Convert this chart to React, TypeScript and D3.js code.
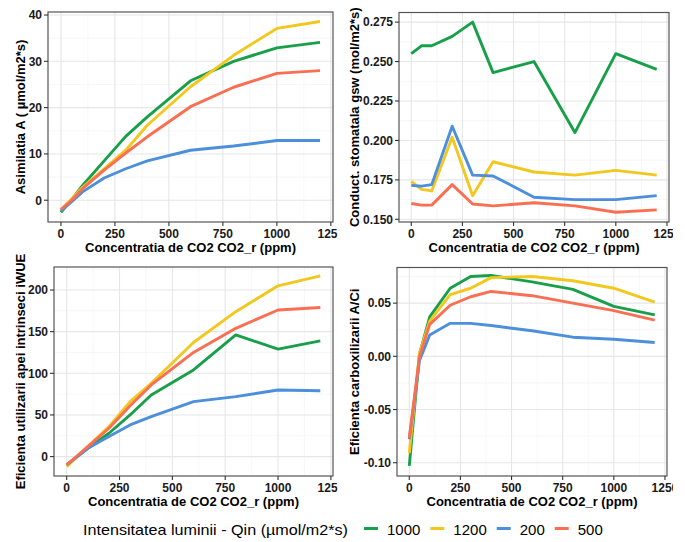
import React from "react";
import * as d3 from "d3";

// CO2 set points of the A–Ci response curves (ppm)
const co2 = [0, 50, 100, 200, 300, 400, 600, 800, 1000, 1200];

// Light intensity levels (legend order) and their colours
const lightLevels = ["1000", "1200", "200", "500"];
const levelColors = ["#17A049", "#F2C71E", "#4C8FDA", "#FA6E52"];

// Net assimilation A (µmol/m2*s)
const assim1000 = [-2.6, 0.2, 3.2, 8.5, 13.8, 18.0, 25.8, 30.0, 32.9, 34.1];
const assim1200 = [-2.0, 0.3, 2.8, 6.8, 10.8, 16.2, 24.5, 31.3, 37.1, 38.6];
const assim200 = [-2.3, -0.3, 1.8, 4.8, 6.8, 8.5, 10.8, 11.7, 12.9, 12.9];
const assim500 = [-2.0, 0.0, 2.5, 6.5, 10.2, 13.7, 20.2, 24.4, 27.4, 28.0];

// Stomatal conductance gsw (mol/m2*s)
const gsw1000 = [0.255, 0.26, 0.26, 0.266, 0.275, 0.243, 0.25, 0.205, 0.255, 0.245];
const gsw1200 = [0.174, 0.169, 0.168, 0.202, 0.165, 0.1865, 0.18, 0.178, 0.181, 0.178];
const gsw200 = [0.1715, 0.171, 0.172, 0.209, 0.178, 0.1775, 0.164, 0.1625, 0.1625, 0.165];
const gsw500 = [0.16, 0.159, 0.159, 0.172, 0.1597, 0.1585, 0.1605, 0.1585, 0.1545, 0.156];

// Intrinsic water use efficiency iWUE
const iwue1000 = [-10, 0, 10, 28, 50, 74, 104, 146, 129, 139];
const iwue1200 = [-12, 0, 12, 36, 66, 88, 137, 174, 205, 217];
const iwue200 = [-10, 0, 10, 24, 38, 48, 66, 72, 80, 79];
const iwue500 = [-10, 1, 12, 34, 61, 86, 125, 154, 176, 179];

// Carboxylation efficiency A/Ci
const ace1000 = [-0.103, 0.002, 0.037, 0.064, 0.075, 0.076, 0.07, 0.063, 0.047, 0.039];
const ace1200 = [-0.091, 0.003, 0.033, 0.058, 0.064, 0.074, 0.075, 0.071, 0.064, 0.051];
const ace200 = [-0.078, -0.004, 0.02, 0.031, 0.031, 0.029, 0.024, 0.018, 0.016, 0.013];
const ace500 = [-0.077, 0.0, 0.03, 0.048, 0.056, 0.061, 0.057, 0.05, 0.043, 0.034];

const xTicks = [0, 250, 500, 750, 1000, 1250];
const xMinor = [125, 375, 625, 875, 1125];
const xTitle = "Concentratia de CO2 CO2_r (ppm)";
const legendTitle = "Intensitatea luminii - Qin (µmol/m2*s)";

const FONT = "'Liberation Sans', Arial, Helvetica, sans-serif";

type PanelSpec = {
  id: string;
  x0: number;
  x1: number;
  y0: number;
  y1: number;
  yDomain: [number, number];
  yTicks: number[];
  yMinor: number[];
  fmt: (v: number) => string;
  yTitle: string;
  yTitleX: number;
  clipX0: number;
  clipX1: number;
  series: number[][];
};

const panels: PanelSpec[] = [
  {
    id: "a",
    x0: 48, x1: 333, y0: 12, y1: 222,
    yDomain: [-4.7, 40.65],
    yTicks: [0, 10, 20, 30, 40],
    yMinor: [5, 15, 25, 35],
    fmt: (v) => String(v),
    yTitle: "Asimilatia A ( µmol/m2*s)",
    yTitleX: 25,
    clipX0: 0, clipX1: 337.5,
    series: [assim1000, assim1200, assim200, assim500],
  },
  {
    id: "g",
    x0: 399, x1: 669, y0: 12.5, y1: 222,
    yDomain: [0.1483, 0.2811],
    yTicks: [0.15, 0.175, 0.2, 0.225, 0.25, 0.275],
    yMinor: [0.1625, 0.1875, 0.2125, 0.2375, 0.2625],
    fmt: (v) => v.toFixed(3),
    yTitle: "Conduct. stomatala gsw (mol/m2*s)",
    yTitleX: 359,
    clipX0: 340, clipX1: 673,
    series: [gsw1000, gsw1200, gsw200, gsw500],
  },
  {
    id: "w",
    x0: 54, x1: 333, y0: 267, y1: 476,
    yDomain: [-23.3, 227.6],
    yTicks: [0, 50, 100, 150, 200],
    yMinor: [25, 75, 125, 175, 225],
    fmt: (v) => String(v),
    yTitle: "Eficienta utilizarii apei intrinseci iWUE",
    yTitleX: 25,
    clipX0: 0, clipX1: 337.5,
    series: [iwue1000, iwue1200, iwue200, iwue500],
  },
  {
    id: "c",
    x0: 397, x1: 667, y0: 267.5, y1: 476,
    yDomain: [-0.1125, 0.0835],
    yTicks: [-0.1, -0.05, 0, 0.05],
    yMinor: [-0.075, -0.025, 0.025, 0.075],
    fmt: (v) => v.toFixed(2),
    yTitle: "Eficienta carboxilizarii A/Ci",
    yTitleX: 359,
    clipX0: 340, clipX1: 673,
    series: [ace1000, ace1200, ace200, ace500],
  },
];

function Panel({ p }: { p: PanelSpec }) {
  const x = d3.scaleLinear().domain([-60, 1260]).range([p.x0, p.x1]);
  const y = d3.scaleLinear().domain(p.yDomain).range([p.y1, p.y0]);
  const line = d3
    .line<number>()
    .x((_, i) => x(co2[i]))
    .y((d) => y(d));
  const cx = (p.x0 + p.x1) / 2;
  const cy = (p.y0 + p.y1) / 2;
  const clipId = `clip-${p.id}`;
  const plotClip = `plot-${p.id}`;
  return (
    <g>
      <defs>
        <clipPath id={clipId}>
          <rect x={p.clipX0} y={p.y0 - 20} width={p.clipX1 - p.clipX0} height={p.y1 - p.y0 + 60} />
        </clipPath>
        <clipPath id={plotClip}>
          <rect x={p.x0} y={p.y0} width={p.x1 - p.x0} height={p.y1 - p.y0} />
        </clipPath>
      </defs>
      <rect x={p.x0} y={p.y0} width={p.x1 - p.x0} height={p.y1 - p.y0} fill="#ffffff" />
      <g clipPath={`url(#${plotClip})`}>
        {xMinor.map((t) => (
          <line key={`xm${t}`} x1={x(t)} x2={x(t)} y1={p.y0} y2={p.y1} stroke="#F3F3F3" strokeWidth={0.7} />
        ))}
        {p.yMinor.map((t) => (
          <line key={`ym${t}`} x1={p.x0} x2={p.x1} y1={y(t)} y2={y(t)} stroke="#F3F3F3" strokeWidth={0.7} />
        ))}
        {xTicks.map((t) => (
          <line key={`xg${t}`} x1={x(t)} x2={x(t)} y1={p.y0} y2={p.y1} stroke="#E6E6E6" strokeWidth={1.1} />
        ))}
        {p.yTicks.map((t) => (
          <line key={`yg${t}`} x1={p.x0} x2={p.x1} y1={y(t)} y2={y(t)} stroke="#E6E6E6" strokeWidth={1.1} />
        ))}
        {p.series.map((s, i) => (
          <path
            key={lightLevels[i]}
            d={line(s) || ""}
            fill="none"
            stroke={levelColors[i]}
            strokeWidth={2.9}
            strokeLinejoin="round"
          />
        ))}
      </g>
      <rect
        x={p.x0}
        y={p.y0}
        width={p.x1 - p.x0}
        height={p.y1 - p.y0}
        fill="none"
        stroke="#555555"
        strokeWidth={1.2}
      />
      {xTicks.map((t) => (
        <line key={`xt${t}`} x1={x(t)} x2={x(t)} y1={p.y1} y2={p.y1 + 4} stroke="#333333" strokeWidth={1.1} />
      ))}
      {p.yTicks.map((t) => (
        <line key={`yt${t}`} x1={p.x0 - 4} x2={p.x0} y1={y(t)} y2={y(t)} stroke="#333333" strokeWidth={1.1} />
      ))}
      <g clipPath={`url(#${clipId})`}>
        {xTicks.map((t) => (
          <text
            key={`xl${t}`}
            x={x(t)}
            y={p.y1 + 15.5}
            textAnchor="middle"
            fontFamily={FONT}
            fontWeight="bold"
            fontSize={12}
            fill="#1a1a1a"
          >
            {t}
          </text>
        ))}
      </g>
      {p.yTicks.map((t) => (
        <text
          key={`yl${t}`}
          x={p.x0 - 6}
          y={y(t) + 4.3}
          textAnchor="end"
          fontFamily={FONT}
          fontWeight="bold"
          fontSize={12}
          fill="#1a1a1a"
        >
          {p.fmt(t)}
        </text>
      ))}
      <text
        x={cx}
        y={p.y1 + 29.5}
        textAnchor="middle"
        fontFamily={FONT}
        fontWeight="bold"
        fontSize={13}
        fill="#000000"
      >
        {xTitle}
      </text>
      <text
        transform={`translate(${p.yTitleX},${cy}) rotate(-90)`}
        textAnchor="middle"
        fontFamily={FONT}
        fontWeight="bold"
        fontSize={13}
        fill="#000000"
      >
        {p.yTitle}
      </text>
    </g>
  );
}

function Legend() {
  const keyW = 14;
  const gapKeyText = 9;
  const gapItem = 10;
  const charW = 15 * 0.556;
  const baseY = 535;
  let cursor = 364;
  const items = lightLevels.map((lvl, i) => {
    const kx = cursor;
    const tx = kx + keyW + gapKeyText;
    const tw = lvl.length * charW;
    cursor = tx + tw + gapItem;
    return { lvl, color: levelColors[i], kx, tx };
  });
  return (
    <g>
      <text x={83} y={baseY} fontFamily={FONT} fontSize={15} fill="#000000" textLength={265} lengthAdjust="spacingAndGlyphs">
        {legendTitle}
      </text>
      {items.map((it) => (
        <g key={it.lvl}>
          <line x1={it.kx} x2={it.kx + keyW} y1={baseY - 6.5} y2={baseY - 6.5} stroke={it.color} strokeWidth={3} />
          <text x={it.tx} y={baseY} fontFamily={FONT} fontSize={15} fill="#000000">
            {it.lvl}
          </text>
        </g>
      ))}
    </g>
  );
}

export default function App() {
  return (
    <svg width={685} height={542} style={{ display: "block", position: "absolute", left: 0, top: 0 }}>
      <rect x={0} y={0} width={685} height={542} fill="#ffffff" />
      {panels.map((p) => (
        <Panel key={p.id} p={p} />
      ))}
      <Legend />
    </svg>
  );
}
